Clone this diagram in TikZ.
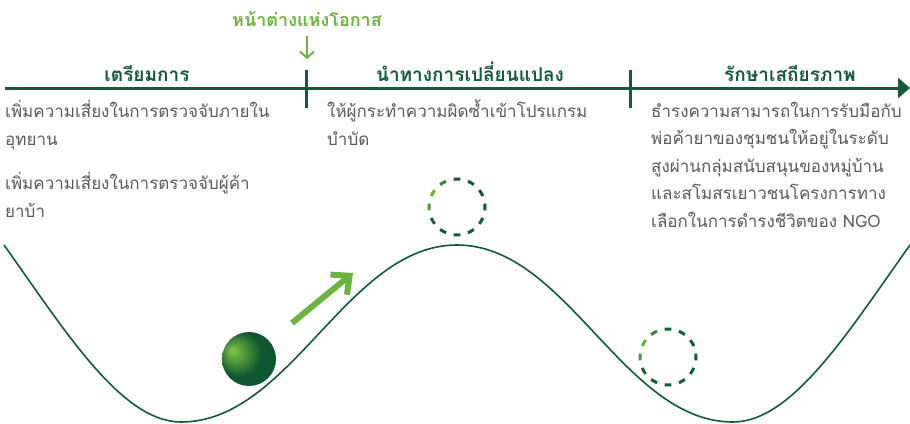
\documentclass[tikz,border=0pt]{standalone}
\usepackage{fontspec}
\newfontfamily\thaifont[Script=Thai]{Loma}
\usetikzlibrary{arrows.meta}
\definecolor{darkgreen}{HTML}{14593A}
\definecolor{litegreen}{HTML}{6CB33F}
\definecolor{textgray}{HTML}{5A5A5A}
\definecolor{ballhi}{HTML}{78BC45}
\definecolor{balldark}{HTML}{0E5631}
\pgfdeclareradialshading{greenball}{\pgfpoint{-16bp}{8bp}}{color(0bp)=(ballhi); color(2bp)=(ballhi); color(21bp)=(balldark); color(50bp)=(balldark)}

\begin{document}
\begin{tikzpicture}[x=1pt, y=-1pt, every node/.style={inner sep=0pt},
  heading/.style={font=\thaifont\bfseries\fontsize{19}{22}\selectfont, text=darkgreen, anchor=base},
  body/.style={font=\thaifont\fontsize{17}{27.5}\selectfont, text=textgray, align=left, anchor=base west}]
  \useasboundingbox (0,0) rectangle (910,423);

  \coordinate (axisL) at (5,88);
  \coordinate (axisR) at (910,88);
  \draw[darkgreen, line width=3pt, -{Triangle[length=12pt,width=20pt]}] (axisL) -- (axisR);
  \foreach \x/\nm in {306/tickA,630/tickB} {
    \coordinate (\nm-top) at (\x,70);
    \coordinate (\nm-bot) at (\x,108);
    \draw[darkgreen, line width=3pt] (\nm-top) -- (\nm-bot);
  }

  \node[heading] (prep) at (147,81) {เตรียมการ};
  \node[heading] (lead) at (470,81) {นำทางการเปลี่ยนแปลง};
  \node[heading] (keep) at (790,81) {รักษาเสถียรภาพ};

  \node[heading, text=litegreen, font=\thaifont\bfseries\fontsize{18}{22}\selectfont, outer sep=9pt] (window) at (307,27) {หน้าต่างแห่งโอกาส};
  \coordinate (windowtip) at (307,59);
  \draw[litegreen, line width=2pt, -{Straight Barb[length=6pt,width=14pt]}] (window) -- (windowtip);

  \node[body] (prepA) at (5,145) {เพิ่มความเสี่ยงในการตรวจจับภายใน\\อุทยาน};
  \node[body] (prepB) at (5,217) {เพิ่มความเสี่ยงในการตรวจจับผู้ค้า\\ยาบ้า};
  \node[body] (leadA) at (327,145) {ให้ผู้กระทำความผิดซ้ำเข้าโปรแกรม\\บำบัด};
  \node[body] (keepA) at (651,227) {ธำรงความสามารถในการรับมือกับ\\พ่อค้ายาของชุมชนให้อยู่ในระดับ\\สูงผ่านกลุ่มสนับสนุนของหมู่บ้าน\\และสโมสรเยาวชนโครงการทาง\\เลือกในการดำรงชีวิตของ NGO};

  \draw[darkgreen, line width=1.6pt] (4,245) .. controls (64,329) and (121,422) .. (181,422)
    .. controls (291,422) and (347,245) .. (457,245)
    .. controls (567,245) and (623,422) .. (733,422)
    .. controls (793,422) and (850,329) .. (910,245);

  \shade[shading=greenball] (249,359) circle (27pt);

  \coordinate (pushtail) at (292,323);
  \coordinate (pushtip) at (353,273);
  \draw[litegreen, line width=6pt, -{Straight Barb[length=14pt,width=26pt]}] (pushtail) -- (pushtip);

  \foreach \cx/\cy in {457/207,668/357} {
    \foreach \a in {0,30,...,330} {
      \pgfmathsetmacro\mixp{100*max(0,cos(\a-155))^4}
      \draw[line width=3pt, color=litegreen!\mixp!darkgreen] (\cx,\cy) ++(\a-7:28pt) arc[start angle=\a-7, end angle=\a+7, radius=28pt];
    }
  }
\end{tikzpicture}
\end{document}
